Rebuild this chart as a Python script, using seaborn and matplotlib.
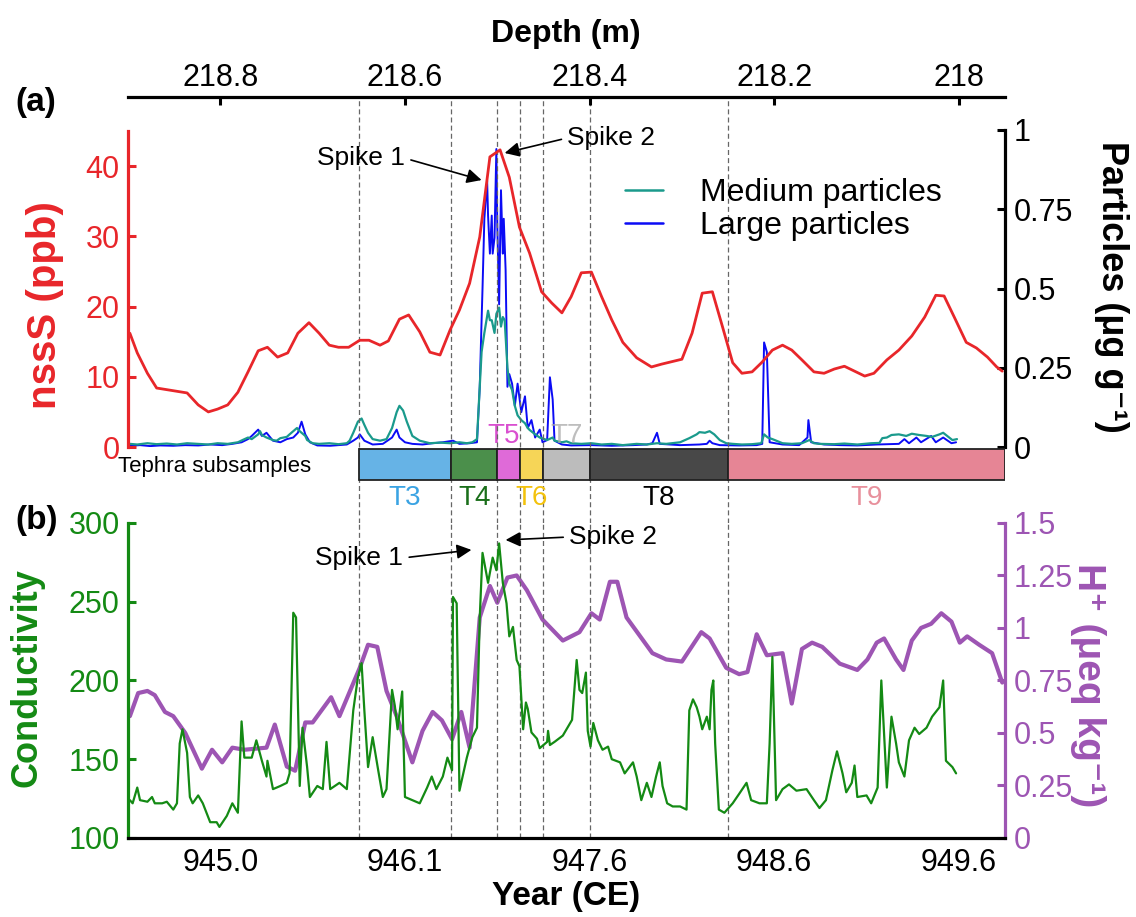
import numpy as np
import pandas as pd
import matplotlib.pyplot as plt
import seaborn as sns
from matplotlib.lines import Line2D

# ---- values; x is core depth (m), decreasing to the right ----
nss_depth = [218.898, 218.890, 218.879, 218.869, 218.836, 218.824, 218.813, 218.803, 218.792, 218.781,
             218.770, 218.759, 218.749, 218.738, 218.727, 218.716, 218.704, 218.693, 218.682, 218.672,
             218.661, 218.649, 218.639, 218.627, 218.618, 218.606, 218.596, 218.584, 218.573, 218.562,
             218.551, 218.541, 218.530, 218.519, 218.508, 218.497, 218.487, 218.476, 218.465, 218.452,
             218.441, 218.430, 218.420, 218.409, 218.398, 218.387, 218.376, 218.364, 218.349, 218.333,
             218.322, 218.300, 218.289, 218.278, 218.267, 218.256, 218.245, 218.235, 218.224, 218.213,
             218.202, 218.191, 218.181, 218.170, 218.157, 218.146, 218.135, 218.124, 218.113, 218.102,
             218.092, 218.078, 218.065, 218.051, 218.037, 218.025, 218.016, 218.005, 217.992, 217.981,
             217.969, 217.959, 217.953]
nss_ppb = [16.2, 13.4, 10.5, 8.4, 7.7, 6.0, 5.0, 5.4, 6.0, 7.8,
           10.7, 13.7, 14.2, 12.8, 13.4, 16.2, 17.7, 16.2, 14.5, 14.2,
           14.2, 15.2, 15.2, 14.5, 15.1, 18.2, 18.8, 16.4, 13.5, 13.1,
           16.7, 19.5, 23.3, 29.9, 41.3, 42.3, 38.4, 31.3, 27.6, 22.1,
           20.5, 19.1, 21.4, 24.8, 24.9, 21.4, 18.1, 14.9, 12.7, 11.4,
           11.8, 12.5, 16.2, 21.9, 22.1, 17.1, 12.0, 10.5, 10.7, 12.1,
           13.8, 14.5, 13.8, 12.4, 10.7, 10.5, 11.1, 11.5, 10.8, 10.1,
           10.5, 12.4, 13.8, 15.8, 18.5, 21.6, 21.5, 18.5, 14.9, 14.1,
           12.8, 11.4, 10.8]

medium_depth = [218.898, 218.890, 218.879, 218.869, 218.858, 218.847, 218.836, 218.824, 218.813, 218.803,
                218.792, 218.781, 218.776, 218.770, 218.766, 218.759, 218.757, 218.755, 218.750, 218.743,
                218.739, 218.735, 218.728, 218.725, 218.717, 218.714, 218.712, 218.708, 218.706, 218.700,
                218.693, 218.682, 218.672, 218.663, 218.660, 218.656, 218.651, 218.647, 218.644, 218.640,
                218.635, 218.627, 218.620, 218.614, 218.609, 218.606, 218.602, 218.598, 218.592, 218.584,
                218.573, 218.562, 218.551, 218.541, 218.533, 218.527, 218.522, 218.519, 218.517, 218.514,
                218.510, 218.508, 218.506, 218.503, 218.501, 218.498, 218.496, 218.494, 218.492, 218.489,
                218.487, 218.484, 218.481, 218.478, 218.474, 218.470, 218.467, 218.465, 218.459, 218.454,
                218.446, 218.440, 218.438, 218.430, 218.425, 218.420, 218.409, 218.398, 218.387, 218.376,
                218.364, 218.349, 218.338, 218.327, 218.317, 218.302, 218.292, 218.284, 218.281, 218.275,
                218.270, 218.265, 218.259, 218.252, 218.245, 218.235, 218.224, 218.214, 218.211, 218.207,
                218.202, 218.191, 218.181, 218.170, 218.162, 218.157, 218.151, 218.135, 218.124, 218.110,
                218.095, 218.086, 218.083, 218.078, 218.073, 218.065, 218.057, 218.051, 218.043, 218.035,
                218.029, 218.021, 218.017, 218.014, 218.007, 218.002]
medium_ugg = [0.010, 0.008, 0.012, 0.009, 0.011, 0.008, 0.012, 0.010, 0.008, 0.012,
              0.010, 0.015, 0.022, 0.030, 0.025, 0.040, 0.050, 0.038, 0.030, 0.022,
              0.020, 0.028, 0.032, 0.040, 0.060, 0.050, 0.045, 0.035, 0.022, 0.012,
              0.010, 0.012, 0.009, 0.012, 0.020, 0.045, 0.080, 0.090, 0.070, 0.045,
              0.025, 0.020, 0.025, 0.060, 0.110, 0.130, 0.115, 0.080, 0.035, 0.020,
              0.012, 0.014, 0.012, 0.015, 0.012, 0.015, 0.025, 0.190, 0.300, 0.360,
              0.430, 0.400, 0.400, 0.360, 0.420, 0.440, 0.380, 0.410, 0.400, 0.250,
              0.200, 0.180, 0.130, 0.100, 0.085, 0.075, 0.060, 0.054, 0.040, 0.030,
              0.022, 0.030, 0.020, 0.015, 0.018, 0.012, 0.010, 0.012, 0.008, 0.010,
              0.006, 0.010, 0.008, 0.012, 0.010, 0.015, 0.028, 0.040, 0.047, 0.045,
              0.050, 0.040, 0.022, 0.012, 0.010, 0.008, 0.009, 0.012, 0.040, 0.030,
              0.025, 0.012, 0.010, 0.012, 0.022, 0.012, 0.010, 0.009, 0.011, 0.008,
              0.012, 0.013, 0.028, 0.030, 0.038, 0.040, 0.035, 0.042, 0.038, 0.035,
              0.032, 0.040, 0.045, 0.038, 0.022, 0.025]

large_depth = [218.898, 218.887, 218.876, 218.865, 218.851, 218.838, 218.824, 218.811, 218.798, 218.787,
               218.777, 218.770, 218.766, 218.759, 218.755, 218.750, 218.743, 218.735, 218.728, 218.721,
               218.716, 218.712, 218.708, 218.703, 218.695, 218.681, 218.663, 218.656, 218.651, 218.649,
               218.644, 218.635, 218.624, 218.614, 218.609, 218.606, 218.600, 218.592, 218.581, 218.570,
               218.559, 218.548, 218.541, 218.530, 218.522, 218.519, 218.517, 218.516, 218.514, 218.511,
               218.510, 218.508, 218.506, 218.505, 218.503, 218.501, 218.500, 218.498, 218.496, 218.494,
               218.493, 218.491, 218.489, 218.487, 218.484, 218.481, 218.478, 218.474, 218.470, 218.467,
               218.463, 218.459, 218.454, 218.451, 218.446, 218.443, 218.440, 218.438, 218.430, 218.420,
               218.398, 218.376, 218.353, 218.338, 218.332, 218.327, 218.324, 218.302, 218.281, 218.273,
               218.270, 218.267, 218.259, 218.238, 218.219, 218.213, 218.211, 218.208, 218.205, 218.191,
               218.173, 218.164, 218.163, 218.160, 218.146, 218.129, 218.110, 218.089, 218.065, 218.059,
               218.054, 218.046, 218.041, 218.030, 218.025, 218.017, 218.008, 218.003]
large_ugg = [0.004, 0.006, 0.003, 0.005, 0.004, 0.006, 0.005, 0.008, 0.006, 0.010,
             0.015, 0.025, 0.035, 0.055, 0.035, 0.045, 0.020, 0.015, 0.025, 0.030,
             0.045, 0.080, 0.040, 0.015, 0.005, 0.004, 0.008, 0.020, 0.030, 0.040,
             0.020, 0.008, 0.010, 0.030, 0.055, 0.030, 0.015, 0.010, 0.008, 0.012,
             0.015, 0.020, 0.010, 0.012, 0.015, 0.190, 0.400, 0.500, 0.720, 0.840,
             0.730, 0.610, 0.730, 0.610, 0.660, 0.940, 0.700, 0.450, 0.810, 0.610,
             0.720, 0.560, 0.190, 0.230, 0.200, 0.130, 0.200, 0.110, 0.160, 0.060,
             0.085, 0.030, 0.055, 0.015, 0.022, 0.220, 0.150, 0.020, 0.008, 0.005,
             0.006, 0.004, 0.006, 0.008, 0.012, 0.045, 0.010, 0.006, 0.008, 0.010,
             0.020, 0.012, 0.006, 0.005, 0.006, 0.010, 0.330, 0.300, 0.015, 0.008,
             0.006, 0.030, 0.085, 0.015, 0.008, 0.006, 0.005, 0.008, 0.010, 0.025,
             0.012, 0.030, 0.015, 0.035, 0.015, 0.030, 0.012, 0.015]

cond_depth = [218.898, 218.895, 218.890, 218.887, 218.879, 218.874, 218.871, 218.863, 218.858, 218.851,
              218.847, 218.844, 218.841, 218.836, 218.833, 218.830, 218.824, 218.819, 218.811, 218.804,
              218.801, 218.793, 218.787, 218.781, 218.777, 218.774, 218.766, 218.761, 218.755, 218.750,
              218.749, 218.743, 218.735, 218.728, 218.725, 218.721, 218.718, 218.714, 218.711, 218.706,
              218.703, 218.695, 218.689, 218.685, 218.681, 218.671, 218.663, 218.656, 218.651, 218.647,
              218.644, 218.640, 218.635, 218.629, 218.624, 218.620, 218.614, 218.611, 218.608, 218.603,
              218.600, 218.592, 218.584, 218.576, 218.571, 218.566, 218.559, 218.554, 218.549, 218.548,
              218.544, 218.541, 218.533, 218.527, 218.522, 218.519, 218.516, 218.510, 218.505, 218.501,
              218.498, 218.494, 218.490, 218.487, 218.483, 218.479, 218.476, 218.472, 218.469, 218.467,
              218.463, 218.457, 218.454, 218.446, 218.445, 218.443, 218.438, 218.429, 218.424, 218.419,
              218.414, 218.411, 218.408, 218.404, 218.402, 218.399, 218.396, 218.391, 218.386, 218.380,
              218.376, 218.367, 218.362, 218.353, 218.349, 218.344, 218.338, 218.333, 218.328, 218.324,
              218.321, 218.316, 218.310, 218.302, 218.295, 218.292, 218.288, 218.284, 218.281, 218.278,
              218.273, 218.270, 218.268, 218.266, 218.264, 218.260, 218.254, 218.245, 218.238, 218.230,
              218.225, 218.216, 218.208, 218.205, 218.202, 218.198, 218.191, 218.184, 218.176, 218.165,
              218.157, 218.151, 218.144, 218.137, 218.132, 218.126, 218.122, 218.116, 218.113, 218.110,
              218.100, 218.095, 218.088, 218.084, 218.078, 218.073, 218.068, 218.065, 218.059, 218.054,
              218.048, 218.043, 218.035, 218.029, 218.021, 218.017, 218.014, 218.007, 218.003]
cond_val = [124, 122, 132, 124, 123, 126, 122, 122, 123, 118,
            122, 160, 169, 154, 126, 122, 127, 122, 110, 110,
            107, 114, 122, 116, 174, 151, 151, 162, 149, 139,
            149, 131, 133, 135, 141, 243, 240, 133, 170, 145,
            126, 133, 131, 161, 131, 135, 131, 181, 202, 211,
            181, 145, 164, 143, 126, 131, 194, 184, 169, 193,
            126, 124, 122, 132, 139, 131, 139, 151, 143, 253,
            249, 130, 151, 164, 170, 240, 281, 262, 278, 270,
            287, 262, 249, 228, 234, 213, 209, 169, 186, 182,
            167, 163, 157, 161, 168, 159, 161, 165, 170, 175,
            213, 194, 192, 205, 168, 158, 173, 162, 156, 158,
            150, 148, 141, 148, 139, 124, 135, 126, 139, 148,
            133, 122, 120, 120, 118, 181, 188, 183, 177, 169,
            177, 169, 194, 200, 160, 118, 116, 122, 128, 135,
            124, 122, 122, 160, 215, 124, 131, 134, 130, 131,
            124, 119, 124, 143, 155, 141, 129, 135, 146, 126,
            127, 122, 132, 200, 132, 177, 160, 148, 139, 162,
            170, 166, 170, 177, 183, 200, 149, 145, 141]

hplus_depth = [218.898, 218.889, 218.879, 218.871, 218.860, 218.851, 218.838, 218.820, 218.809, 218.798,
               218.787, 218.774, 218.750, 218.741, 218.728, 218.719, 218.708, 218.700, 218.680, 218.671,
               218.649, 218.640, 218.630, 218.620, 218.609, 218.592, 218.581, 218.570, 218.560, 218.549,
               218.539, 218.530, 218.519, 218.508, 218.500, 218.489, 218.479, 218.468, 218.451, 218.429,
               218.411, 218.398, 218.389, 218.378, 218.370, 218.360, 218.332, 218.317, 218.300, 218.279,
               218.270, 218.252, 218.238, 218.229, 218.219, 218.208, 218.191, 218.181, 218.170, 218.159,
               218.148, 218.129, 218.110, 218.099, 218.089, 218.081, 218.068, 218.060, 218.051, 218.041,
               218.030, 218.019, 218.008, 217.999, 217.991, 217.978, 217.964, 217.953]
hplus_val = [0.58, 0.69, 0.70, 0.68, 0.60, 0.58, 0.50, 0.33, 0.42, 0.36,
             0.43, 0.42, 0.43, 0.54, 0.34, 0.32, 0.55, 0.55, 0.67, 0.58,
             0.81, 0.92, 0.91, 0.70, 0.58, 0.36, 0.51, 0.60, 0.56, 0.47,
             0.60, 0.43, 1.05, 1.20, 1.12, 1.24, 1.25, 1.18, 1.04, 0.94,
             0.98, 1.07, 1.04, 1.22, 1.22, 1.05, 0.88, 0.85, 0.84, 0.98,
             0.95, 0.81, 0.78, 0.79, 0.97, 0.87, 0.88, 0.64, 0.90, 0.93,
             0.91, 0.83, 0.80, 0.85, 0.93, 0.95, 0.85, 0.80, 0.94, 1.00,
             1.02, 1.07, 1.03, 0.93, 0.96, 0.92, 0.88, 0.74]

tephra_names = ["T3", "T4", "T5", "T6", "T7", "T8", "T9"]
tephra_start = [218.65, 218.55, 218.50, 218.475, 218.45, 218.40, 218.25]
tephra_end = [218.55, 218.50, 218.475, 218.45, 218.40, 218.25, 217.95]
tephra_fill = ["#66b3e6", "#4b8f4b", "#df6ad8", "#f6d557", "#bcbcbc", "#484848", "#e68595"]
tephra_text = ["#3aa3e3", "#1a6e1a", "#d94fd0", "#f3c20c", "#a8a8a8", "black", "#e8909c"]

depth_ticks = [218.8, 218.6, 218.4, 218.2, 218.0]
depth_labels = ["218.8", "218.6", "218.4", "218.2", "218"]
year_labels = ["945.0", "946.1", "947.6", "948.6", "949.6"]
nss_ticks = [0, 10, 20, 30, 40]
part_ticks = [0, 0.25, 0.5, 0.75, 1]
part_labels = ["0", "0.25", "0.5", "0.75", "1"]
cond_ticks = [100, 150, 200, 250, 300]
hplus_ticks = [0, 0.25, 0.5, 0.75, 1, 1.25, 1.5]
hplus_labels = ["0", "0.25", "0.5", "0.75", "1", "1.25", "1.5"]

RED, TEAL, BLUE = "#e8262a", "#1a9a8c", "#0b0bf5"
GREEN, PURPLE = "#148a14", "#9d55b3"

sns.set_theme(style="white", rc={"text.color": "black", "axes.labelcolor": "black",
                                 "xtick.color": "black", "ytick.color": "black"})
plt.rcParams["font.family"] = ["Liberation Sans", "DejaVu Sans"]

fig = plt.figure(figsize=(11.36, 9.17), dpi=100)
ax_a = fig.add_axes([0.1127, 0.5125, 0.772, 0.3817])
ax_p = ax_a.twinx()
ax_t = fig.add_axes([0.1127, 0.4297, 0.772, 0.0828])
ax_b = fig.add_axes([0.1127, 0.0862, 0.772, 0.3435])
ax_h = ax_b.twinx()

XLIM = (218.9, 217.95)
SPW, TKW, TKL, TFS = 2.3, 2.2, 6, 22

# ---- panel (a) ----
sns.lineplot(x=large_depth, y=large_ugg, ax=ax_p, color=BLUE, linewidth=1.4, sort=False, estimator=None)
sns.lineplot(x=medium_depth, y=medium_ugg, ax=ax_p, color=TEAL, linewidth=1.6, sort=False, estimator=None)
sns.lineplot(x=nss_depth, y=nss_ppb, ax=ax_a, color=RED, linewidth=2.0, sort=False, estimator=None)
ax_a.set_zorder(ax_p.get_zorder() + 1)
ax_a.patch.set_visible(False)

for ax in (ax_a, ax_p, ax_t, ax_b, ax_h):
    ax.set_xlim(*XLIM)
    for s in ax.spines.values():
        s.set_visible(False)
        s.set_linewidth(SPW)

ax_a.set_ylim(0, 49.82)
ax_p.set_ylim(0, 1.104)
ax_a.spines["top"].set_visible(True)
ax_a.spines["top"].set_color("black")
ax_a.spines["left"].set_visible(True)
ax_a.spines["left"].set_color(RED)
ax_a.spines["left"].set_bounds(0, 45)
ax_p.spines["right"].set_visible(True)
ax_p.spines["right"].set_color("black")
ax_p.spines["right"].set_bounds(0, 1)

ax_a.xaxis.tick_top()
ax_a.set_xticks(depth_ticks)
ax_a.set_xticklabels(depth_labels)
ax_a.tick_params(axis="x", direction="in", length=TKL, width=TKW, labelsize=TFS, pad=3, colors="black")
ax_a.set_yticks(nss_ticks)
ax_a.tick_params(axis="y", direction="in", length=TKL, width=TKW, labelsize=TFS, pad=6, colors=RED)
ax_p.set_yticks(part_ticks)
ax_p.set_yticklabels(part_labels)
ax_p.tick_params(axis="y", direction="in", length=TKL, width=TKW, labelsize=TFS, pad=6, colors="black")

ax_a.set_ylabel("nssS (ppb)", color=RED, fontsize=29, fontweight="bold", va="center")
ax_a.yaxis.set_label_coords(-0.0946, 0.406)
ax_p.set_ylabel("Particles (μg g⁻¹)", rotation=270, fontsize=26, fontweight="bold", va="center")
ax_p.yaxis.set_label_coords(1.121, 0.457)
ax_a.xaxis.set_label_position("top")
ax_a.set_xlabel("Depth (m)", fontsize=23, fontweight="bold", va="center")
ax_a.xaxis.set_label_coords(0.4994, 1.18)

handles = [Line2D([], [], color=TEAL, lw=1.8), Line2D([], [], color=BLUE, lw=1.8)]
ax_a.legend(handles, ["Medium particles", "Large particles"], loc="upper left",
            bbox_to_anchor=(0.5502, 0.806), bbox_transform=fig.transFigure, frameon=False,
            fontsize=23, handlelength=1.2, handletextpad=1.15, labelspacing=0.1,
            borderpad=0, borderaxespad=0)

arrow = dict(arrowstyle="-|>", color="black", lw=1.2, mutation_scale=22, shrinkA=2, shrinkB=0)
ax_a.annotate("Spike 1", xy=(218.517, 38.0), xytext=(218.600, 41.1), ha="right", va="center",
              fontsize=19, arrowprops=dict(arrow, relpos=(1, 0.5)))
ax_a.annotate("Spike 2", xy=(218.492, 41.85), xytext=(218.424, 44.0), ha="left", va="center",
              fontsize=19, arrowprops=dict(arrow, relpos=(0, 0.5)))

# ---- tephra subsample strip ----
ax_t.set_ylim(0, 1)
ax_t.set_xticks([])
ax_t.set_yticks([])
ax_t.patch.set_visible(False)
widths = np.subtract(tephra_end, tephra_start)
ax_t.barh(y=0.77, width=widths, left=tephra_start, height=0.41, color=tephra_fill,
          edgecolor="#222222", linewidth=1.3, zorder=3)
centers = (np.array(tephra_start) + np.array(tephra_end)) / 2
for name, cx, col in zip(tephra_names, centers, tephra_text):
    above = name in ("T5", "T7")
    ax_t.text(cx + (0.006 if name == "T5" else 0), 1.15 if above else 0.33, name, color=col,
              fontsize=20, ha="center", va="center", clip_on=False,
              alpha=0.75 if name == "T7" else 1, zorder=4)
ax_t.text(-0.0114, 0.74, "Tephra subsamples", transform=ax_t.transAxes, fontsize=16,
          ha="left", va="center")

# ---- panel (b) ----
sns.lineplot(x=hplus_depth, y=hplus_val, ax=ax_h, color=PURPLE, linewidth=3.0, sort=False, estimator=None)
sns.lineplot(x=cond_depth, y=cond_val, ax=ax_b, color=GREEN, linewidth=1.6, sort=False, estimator=None)
ax_b.set_zorder(ax_h.get_zorder() + 1)
ax_b.patch.set_visible(False)

ax_b.set_ylim(100, 300)
ax_h.set_ylim(0, 1.5)
ax_b.spines["bottom"].set_visible(True)
ax_b.spines["bottom"].set_color("black")
ax_b.spines["left"].set_visible(True)
ax_b.spines["left"].set_color(GREEN)
ax_h.spines["right"].set_visible(True)
ax_h.spines["right"].set_color(PURPLE)

ax_b.set_xticks(depth_ticks)
ax_b.set_xticklabels(year_labels)
ax_b.tick_params(axis="x", direction="in", length=TKL, width=TKW, labelsize=TFS, pad=7, colors="black")
ax_b.set_yticks(cond_ticks)
ax_b.tick_params(axis="y", direction="in", length=TKL, width=TKW, labelsize=TFS, pad=6, colors=GREEN)
ax_h.set_yticks(hplus_ticks)
ax_h.set_yticklabels(hplus_labels)
ax_h.tick_params(axis="y", direction="in", length=TKL, width=TKW, labelsize=TFS, pad=6, colors=PURPLE)

ax_b.set_ylabel("Conductivity", color=GREEN, fontsize=26, fontweight="bold", va="center")
ax_b.yaxis.set_label_coords(-0.1152, 0.508)
ax_h.set_ylabel("H⁺ (μeq kg⁻¹)", color=PURPLE, rotation=270, fontsize=28, fontweight="bold", va="center")
ax_h.yaxis.set_label_coords(1.095, 0.486)
ax_b.set_xlabel("Year (CE)", fontsize=24, fontweight="bold", va="center")
ax_b.xaxis.set_label_coords(0.5, -0.186)

ax_b.annotate("Spike 1", xy=(218.528, 282.9), xytext=(218.602, 277.8), ha="right", va="center",
              fontsize=19, arrowprops=dict(arrow, relpos=(1, 0.5)))
ax_b.annotate("Spike 2", xy=(218.491, 289.2), xytext=(218.422, 291.1), ha="left", va="center",
              fontsize=19, arrowprops=dict(arrow, relpos=(0, 0.5)))

# dashed boundaries of the tephra subsamples, drawn through every panel
for ax in (ax_a, ax_t, ax_b):
    for d in tephra_start:
        ax.axvline(d, color="#666666", linestyle=(0, (4, 2.5)), linewidth=0.9, zorder=0)

fig.text(15 / 1136, 1 - 103 / 917, "(a)", fontsize=24, fontweight="bold", va="center", color="black")
fig.text(15 / 1136, 1 - 520 / 917, "(b)", fontsize=24, fontweight="bold", va="center", color="black")

fig.savefig("out.png", dpi=100)
